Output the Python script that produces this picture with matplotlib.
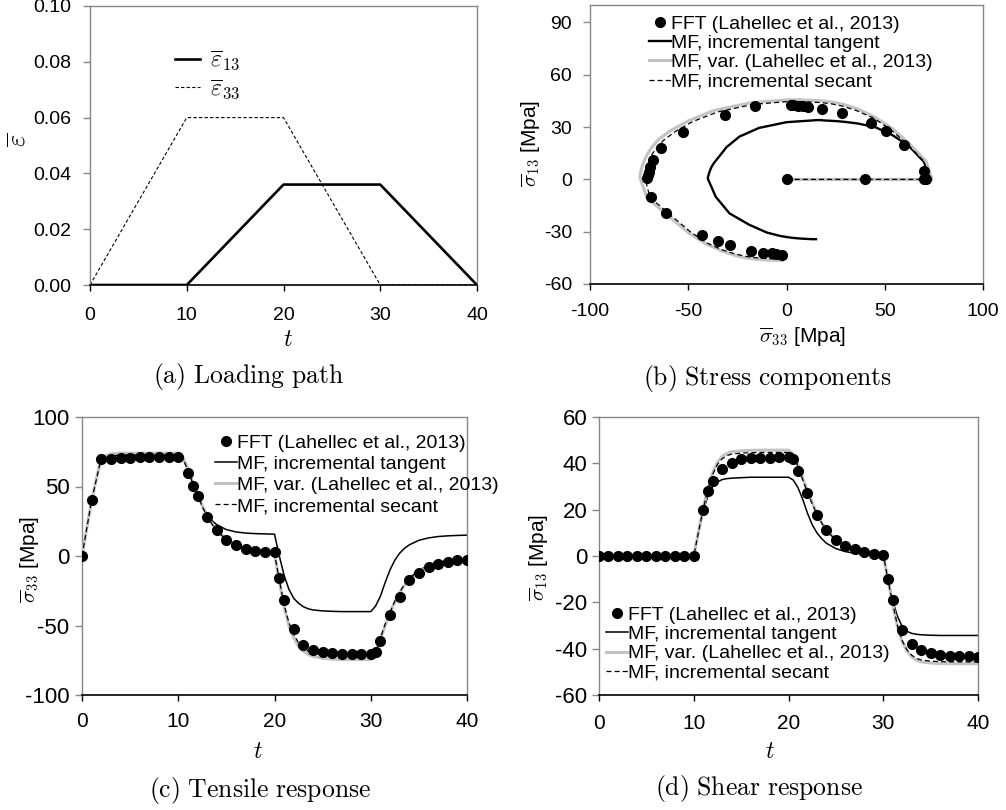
import matplotlib
matplotlib.use("Agg")
import matplotlib.pyplot as plt
from matplotlib.lines import Line2D

plt.rcParams['font.family'] = ['Liberation Sans', 'DejaVu Sans']
plt.rcParams['mathtext.fontset'] = 'cm'
plt.rcParams['axes.unicode_minus'] = False

# ---------------- data ----------------
# (a) loading path
t_load = [0, 10, 20, 30, 40]
eps13 = [0, 0, 0.036, 0.036, 0]
eps33 = [0, 0.06, 0.06, 0, 0]

# FFT reference points (time series)
t_fft = [0, 1, 2, 3, 4, 5, 6, 7, 8, 9, 10, 11, 11.5, 12, 13, 14, 15, 16, 17, 18, 19, 20,
         20.5, 21, 22, 23, 24, 25, 26, 27, 28, 29, 30, 30.5, 31, 32, 33, 34, 35, 36, 37, 38, 39, 40]
s33_fft = [0, 40, 69.5, 70, 70.5, 70.5, 71, 71, 71, 71, 71, 60, 50.3, 43,
           28, 18.4, 11.5, 7.8, 5, 3.8, 2.9, 2.6, -16, -31.6,
           -52.5, -64, -67.8, -69.3, -70, -70.4, -70.4, -70.4, -70.4, -68.8, -61,
           -42.7, -29.3, -17.5, -12, -8, -6, -4, -3, -3]
s13_fft = [0, 0, 0, 0, 0, 0, 0, 0, 0, 0, 0, 20, 28.1, 32.3,
           37.7, 40.3, 41.8, 42.2, 42.5, 42.5, 42.6, 42.6, 41.9, 36.8,
           27.2, 17.9, 11.1, 7.1, 4.3, 2.9, 1.8, 0.9, 0.4, -10, -19,
           -32, -37.8, -40.7, -42, -42.6, -43, -43.2, -43.2, -43.5]

# FFT points in the stress plane (panel b)
b_fft_s33 = [0, 40, 70, 70.5, 71.2, 70, 60, 50.5, 43, 28, 18, 11, 8.5, 6, 3.4, 2.2,
             -16, -31.4, -52.5, -63.9, -67.8, -69.5, -70.2, -70.6, -70.9,
             -69, -61.5, -43, -35, -29, -18, -12, -7.6, -5.1, -2.5]
b_fft_s13 = [0, 0, 0, 0, 0, 5, 20, 28, 32.5, 37.8, 40.5, 41.7, 42, 42.3, 42.6, 42.6,
             41.8, 36.9, 27.2, 17.8, 11.1, 7, 4.2, 2.3, 1,
             -10, -19, -32, -35.5, -37.8, -40.9, -42, -42.4, -42.9, -43.2]

# mean-field model curves
t_mf = [0, 1, 2, 3, 4, 6, 8, 10,
        10.5, 11, 11.5, 12, 12.5, 13, 13.5, 14,
        15, 16, 17, 18, 19, 20,
        20.5, 21, 21.5, 22, 22.5, 23, 23.5, 24,
        25, 26, 27, 28, 29, 30,
        30.5, 31, 31.5, 32, 32.5, 33, 33.5, 34,
        35, 36, 37, 38, 39, 40]
tan_s33 = [0, 40, 71, 72.5, 73, 73, 73, 73,
           70, 62, 53, 45, 36.5, 29.5, 25.5, 22.5,
           19, 17.3, 16.5, 16.1, 15.9, 15.7,
           0, -14, -24, -30.5, -34, -36.5, -38, -38.8,
           -39.5, -39.8, -40, -40, -40, -40,
           -36, -29, -19, -10, -3, 2, 5.5, 8,
           11.3, 13, 14, 14.5, 14.8, 15]
var_s33 = [0, 40, 71, 73.5, 74, 74, 74, 74,
           71, 62.5, 53.5, 44.5, 36, 29, 23.5, 18.5,
           12, 7.8, 5, 3.3, 2.2, 1.6,
           -18, -37, -50, -59, -65, -68.5, -70.8, -72.2,
           -73.6, -74.2, -74.5, -74.5, -74.5, -74.5,
           -71, -60, -50, -41, -33, -26.5, -21, -16.5,
           -10.5, -7, -4.8, -3.4, -2.6, -2.1]
sec_s33 = [0, 40, 70.5, 72, 72.5, 72.5, 72.5, 72.5,
           70, 61.5, 52.5, 44, 35.5, 28.5, 23, 18,
           11.7, 7.6, 4.9, 3.2, 2.1, 1.5,
           -17, -35, -48, -56.5, -62.5, -66.2, -68.5, -69.8,
           -71.2, -71.8, -72, -72, -72, -72,
           -69.5, -59, -49, -40.5, -32.5, -26, -20.5, -16,
           -10.3, -6.8, -4.7, -3.3, -2.5, -2]
tan_s13 = [0, 0, 0, 0, 0, 0, 0, 0,
           10, 19.5, 26, 30, 32, 33, 33.4, 33.6,
           33.8, 34, 34, 34, 34, 34,
           32.8, 29.5, 24.5, 18.5, 13.5, 10, 7.5, 5.5,
           3.2, 1.9, 1.2, 0.8, 0.5, 0.3,
           -10, -19.5, -26, -30.5, -32.5, -33.4, -33.8, -34,
           -34.2, -34.3, -34.3, -34.3, -34.3, -34.3]
var_s13 = [0, 0, 0, 0, 0, 0, 0, 0,
           10.5, 20.5, 29.5, 36, 40.5, 43, 44.3, 45,
           45.4, 45.6, 45.7, 45.7, 45.7, 45.7,
           44, 39.5, 33.5, 28, 23, 18.5, 14.5, 11.3,
           7, 4.4, 2.8, 1.8, 1.1, 0.7,
           -10.5, -21, -30.5, -37, -41, -43.5, -45, -45.7,
           -46.2, -46.4, -46.5, -46.5, -46.5, -46.5]
sec_s13 = [0, 0, 0, 0, 0, 0, 0, 0,
           10.3, 20.3, 29, 35.3, 39.5, 42, 43.3, 44,
           44.4, 44.6, 44.7, 44.7, 44.7, 44.7,
           43, 38.7, 33, 27.5, 22.5, 18, 14.2, 11,
           6.8, 4.3, 2.8, 1.8, 1.1, 0.7,
           -10.3, -20.5, -30, -36.5, -40.5, -42.8, -44.2, -44.9,
           -45.4, -45.6, -45.7, -45.7, -45.7, -45.7]

lab_fft = 'FFT (Lahellec et al., 2013)'
lab_tan = 'MF, incremental tangent'
lab_var = 'MF, var. (Lahellec et al., 2013)'
lab_sec = 'MF, incremental secant'

t_ticks = [0, 10, 20, 30, 40]

# ---------------- styles ----------------
GRAY_SPINE = '#878787'
VAR_COLOR = '#c3c3c3'
DASH = (0, (4, 2.5))

W, H = 1006, 810
fig = plt.figure(figsize=(W / 100, H / 100), dpi=100)


def px_axes(l, t, r, b):
    return fig.add_axes([l / W, 1 - b / H, (r - l) / W, (b - t) / H])


def style(ax, xpad, ypad, xsize=14, ysize=14):
    for s in ['top', 'right', 'left']:
        ax.spines[s].set_color(GRAY_SPINE)
        ax.spines[s].set_linewidth(1.0)
    ax.spines['bottom'].set_color('black')
    ax.spines['bottom'].set_linewidth(1.2)
    ax.tick_params(axis='x', direction='out', length=4, width=1, color='black',
                   pad=xpad, labelsize=xsize)
    ax.tick_params(axis='y', direction='out', length=5, width=1, color=GRAY_SPINE,
                   pad=ypad, labelsize=ysize)


def labels(ax, xl, xpos, yl, ypos, xsize=17, ysize=15):
    ax.set_xlabel(xl, fontsize=xsize)
    ax.xaxis.set_label_coords(*xpos)
    ax.xaxis.label.set_va('center')
    ax.set_ylabel(yl, fontsize=ysize)
    ax.yaxis.set_label_coords(*ypos)
    ax.yaxis.label.set_va('center')


def mf_legend(ax, x0, y0, tan_lw, spacing):
    handles = [Line2D([], [], ls='none', marker='o', ms=7, color='black'),
               Line2D([], [], color='black', lw=tan_lw),
               Line2D([], [], color=VAR_COLOR, lw=2.2),
               Line2D([], [], color='black', lw=0.9, ls=DASH)]
    ax.legend(handles, [lab_fft, lab_tan, lab_var, lab_sec], loc='upper left',
              bbox_to_anchor=(x0, y0), frameon=False, borderpad=0, borderaxespad=0,
              handlelength=1.15, handletextpad=0.0, labelspacing=spacing, fontsize=14,
              numpoints=1)


# ---------------- (a) loading path ----------------
axa = px_axes(90, 6, 477, 285)
axa.plot(t_load, eps13, color='black', lw=1.9, label=r'$\overline{\varepsilon}_{\mathsf{13}}$')
axa.plot(t_load, eps33, color='black', lw=0.8, ls=(0, (3, 2)),
         label=r'$\overline{\varepsilon}_{\mathsf{33}}$')
axa.set_xlim(0, 40)
axa.set_ylim(0, 0.10)
axa.set_xticks(t_ticks)
axa.set_yticks([0, 0.02, 0.04, 0.06, 0.08, 0.10])
axa.set_yticklabels(['0.00', '0.02', '0.04', '0.06', '0.08', '0.10'])
style(axa, 12, 8.5)
labels(axa, r'$t$', (0.512, -0.197), r'$\overline{\varepsilon}$', (-0.186, 0.52), ysize=19)
axa.legend(loc='upper left', bbox_to_anchor=((175 - 90) / 387, (285 - 49) / 279),
           frameon=False, borderpad=0, borderaxespad=0, handlelength=1.06,
           handletextpad=0.42, labelspacing=0.18, fontsize=17)

# ---------------- (b) stress components ----------------
axb = px_axes(590, 5, 983, 284)
axb.plot(tan_s33, tan_s13, color='black', lw=1.7, zorder=2)
axb.plot(var_s33, var_s13, color=VAR_COLOR, lw=2.2, zorder=3)
axb.plot(sec_s33, sec_s13, color='black', lw=0.9, ls=DASH, zorder=4)
axb.plot(b_fft_s33, b_fft_s13, ls='none', marker='o', ms=7, color='black', zorder=5)
axb.set_xlim(-100, 100)
axb.set_ylim(-60, 100)
axb.set_xticks([-100, -50, 0, 50, 100])
axb.set_yticks([-60, -30, 0, 30, 60, 90])
style(axb, 9.5, 8)
labels(axb, r'$\overline{\sigma}_{\mathsf{33}}$ [Mpa]', (0.542, -0.19),
       r'$\overline{\sigma}_{\mathsf{13}}$ [Mpa]', (-0.148, 0.505), xsize=15, ysize=15)
mf_legend(axb, (649 - 590) / 393, (284 - 15.3) / 279, 1.7, 0.08)

# ---------------- (c) tensile response ----------------
axc = px_axes(82, 417, 467, 695)
axc.plot(t_mf, tan_s33, color='black', lw=1.1, zorder=2)
axc.plot(t_mf, var_s33, color=VAR_COLOR, lw=2.2, zorder=3)
axc.plot(t_mf, sec_s33, color='black', lw=0.9, ls=DASH, zorder=4)
axc.plot(t_fft, s33_fft, ls='none', marker='o', ms=7, color='black', zorder=5)
axc.set_xlim(0, 40)
axc.set_ylim(-100, 100)
axc.set_xticks(t_ticks)
axc.set_yticks([-100, -50, 0, 50, 100])
style(axc, 8.5, 4, xsize=15, ysize=16)
labels(axc, r'$t$', (0.457, -0.205), r'$\overline{\sigma}_{\mathsf{33}}$ [Mpa]',
       (-0.135, 0.486), ysize=15)
mf_legend(axc, (215 - 82) / 385, (695 - 434.3) / 278, 1.1, 0.18)

# ---------------- (d) shear response ----------------
axd = px_axes(599, 417, 978, 695)
axd.plot(t_mf, tan_s13, color='black', lw=1.1, zorder=2)
axd.plot(t_mf, var_s13, color=VAR_COLOR, lw=2.2, zorder=3)
axd.plot(t_mf, sec_s13, color='black', lw=0.9, ls=DASH, zorder=4)
axd.plot(t_fft, s13_fft, ls='none', marker='o', ms=7, color='black', zorder=5)
axd.set_xlim(0, 40)
axd.set_ylim(-60, 60)
axd.set_xticks(t_ticks)
axd.set_yticks([-60, -40, -20, 0, 20, 40, 60])
style(axd, 9.5, 3.5, xsize=15, ysize=16)
labels(axd, r'$t$', (0.451, -0.205), r'$\overline{\sigma}_{\mathsf{13}}$ [Mpa]',
       (-0.156, 0.496), ysize=15)
mf_legend(axd, (606 - 599) / 379, (695 - 606) / 278, 1.1, 0.09)

# ---------------- captions ----------------
caps = [(248, 377, r'$\mathrm{(a)\ Loading\ path}$'),
        (768, 378, r'$\mathrm{(b)\ Stress\ components}$'),
        (260, 790, r'$\mathrm{(c)\ Tensile\ response}$'),
        (759, 788, r'$\mathrm{(d)\ Shear\ response}$')]
for x, y, s in caps:
    fig.text(x / W, 1 - y / H, s, ha='center', va='center', fontsize=18.5)

fig.savefig('out.png', dpi=100)
